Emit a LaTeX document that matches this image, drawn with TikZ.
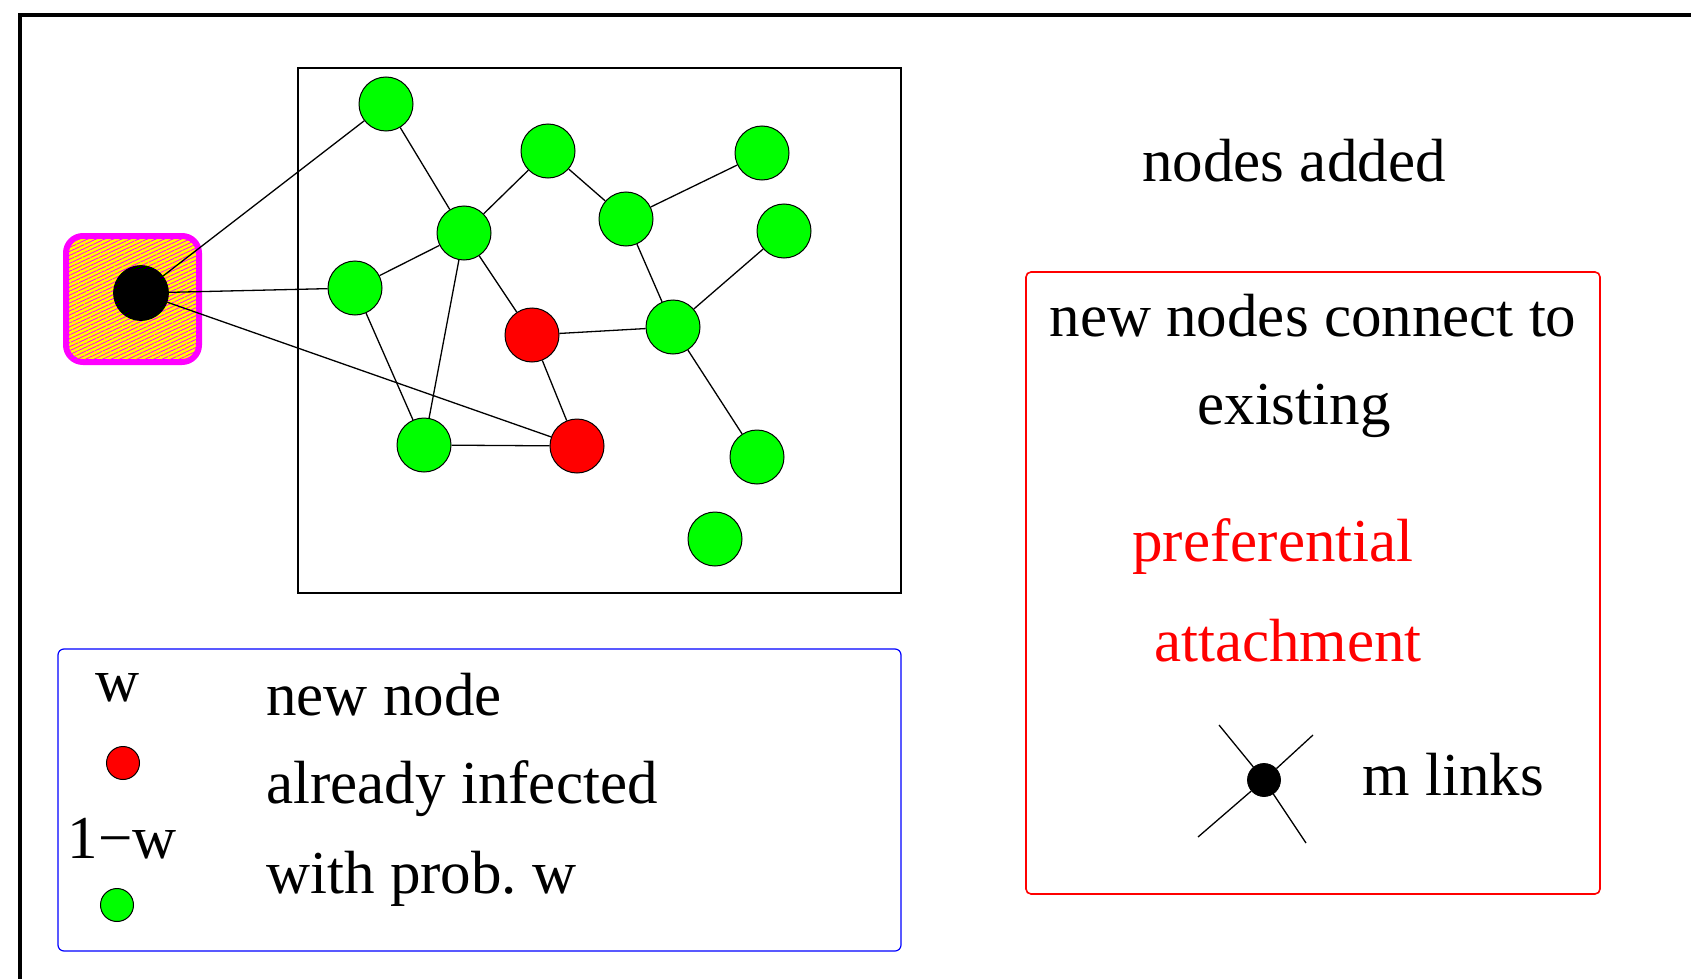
\documentclass[tikz,border=0pt]{standalone}
\usepackage{xcolor}
\usepackage{fontspec}
\setmainfont{Liberation Serif}
\usepackage{tikz}
\usetikzlibrary{shapes}
\usetikzlibrary{patterns.meta}

\definecolor{newmag}{RGB}{255,0,255}
\definecolor{newyel}{RGB}{255,255,0}
\definecolor{nodegreen}{RGB}{0,255,0}
\definecolor{nodered}{RGB}{255,0,0}
\definecolor{legblue}{RGB}{0,0,255}

\begin{document}
\begin{tikzpicture}[
		x=0.5pt,
		y=-0.5pt,
		font=\fontsize{30.5pt}{36pt}\selectfont,
	]
		\tikzset{gnode/.style={
			circle,
			draw,
			fill=nodegreen,
			inner sep=0,
			minimum size=27pt,
			line width=0.5pt,
		}}
		\tikzset{rnode/.style={
			gnode,
			fill=nodered,
		}}
		\tikzset{dotnode/.style={
			circle,
			draw,
			fill=black,
			inner sep=0,
			minimum size=16.5pt,
		}}
		\tikzset{link/.style={
			line width=0.65pt,
		}}

		\useasboundingbox (0,0) rectangle (1691,979);

		%---------------------------------
		% Frames
		\draw[line width=1.7pt] (1720,15) -- (20,15) -- (20,1000);
		\draw[line width=1pt] (298,68) rectangle (901,593);

		%---------------------------------
		% New node
		\node[
			draw=newmag,
			line width=3pt,
			rounded corners=8.5pt,
			minimum width=66.5pt,
			minimum height=63pt,
			preaction={fill=newyel},
			pattern={Lines[angle=25,distance=1.8pt,line width=0.45pt]},
			pattern color=newmag,
		] (newbox) at (132.5,299) {};
		\node[
			dotnode,
			minimum size=27.5pt,
		] (newdot) at (141,293) {};

		%---------------------------------
		% Network
		\node[gnode] (g1) at (386,104) {};
		\node[gnode] (g2) at (548,151) {};
		\node[gnode] (g3) at (762,153) {};
		\node[gnode] (g4) at (464,233) {};
		\node[gnode] (g5) at (626,219) {};
		\node[gnode] (g6) at (784,231) {};
		\node[gnode] (g7) at (355,288) {};
		\node[rnode] (r1) at (532,335) {};
		\node[gnode] (g8) at (673,327) {};
		\node[gnode] (g9) at (424,445) {};
		\node[rnode] (r2) at (577,446) {};
		\node[gnode] (g10) at (757,457) {};
		\node[gnode] (g11) at (715,539) {};

		\draw[link] (newdot) -- (g1);
		\draw[link] (newdot) -- (g7);
		\draw[link] (newdot) -- (r2);
		\draw[link] (g1) -- (g4);
		\draw[link] (g4) -- (g2);
		\draw[link] (g2) -- (g5);
		\draw[link] (g5) -- (g3);
		\draw[link] (g4) -- (g7);
		\draw[link] (g4) -- (r1);
		\draw[link] (g4) -- (g9);
		\draw[link] (g7) -- (g9);
		\draw[link] (g9) -- (r2);
		\draw[link] (r1) -- (r2);
		\draw[link] (r1) -- (g8);
		\draw[link] (g5) -- (g8);
		\draw[link] (g8) -- (g6);
		\draw[link] (g8) -- (g10);

		%---------------------------------
		% Legend
		\draw[legblue, line width=0.6pt, rounded corners=3pt] (58,649) rectangle (901,951);

		\node[anchor=base] (legw) at (118,701) {w};
		\node[dotnode, fill=nodered, line width=0.5pt] (legred) at (123,763) {};
		\node[anchor=base] (legonew) at (122,858) {1−w};
		\node[dotnode, fill=nodegreen, line width=0.5pt] (leggreen) at (117,905) {};

		\node[anchor=base west, inner sep=0] (legnew) at (266,715) {new node};
		\node[anchor=base west, inner sep=0] (leginf) at (266,803) {already infected};
		\node[anchor=base west, inner sep=0] (legprob) at (266,893) {with prob.\ w};

		%---------------------------------
		% Attachment
		\node[anchor=base] (added) at (1294,181) {nodes added};

		\draw[nodered, line width=0.8pt, rounded corners=2.5pt] (1026,272) rectangle (1600,894);

		\node[anchor=base] (connect) at (1313,336) {new nodes connect to};
		\node[anchor=base] (existing) at (1294,424) {existing};
		\node[anchor=base, text=nodered] (pref) at (1273,561) {preferential};
		\node[anchor=base, text=nodered] (attach) at (1288,661) {attachment};

		\node[dotnode] (mdot) at (1264,780) {};
		\coordinate (mend1) at (1219,725);
		\coordinate (mend2) at (1313,735);
		\coordinate (mend3) at (1306,843);
		\coordinate (mend4) at (1198,837);
		\draw[link] (mend1) -- (mdot);
		\draw[link] (mend2) -- (mdot);
		\draw[link] (mend3) -- (mdot);
		\draw[link] (mend4) -- (mdot);
		\node[anchor=base west, inner sep=0] (mlinks) at (1362,795) {m links};
	\end{tikzpicture}
\end{document}
